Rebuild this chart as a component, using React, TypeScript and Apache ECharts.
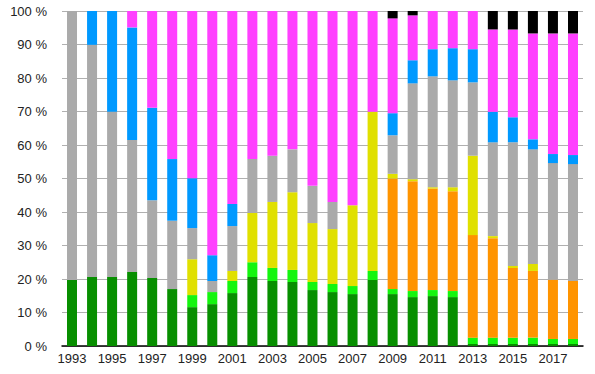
import React, { useEffect, useRef } from "react";
import * as echarts from "echarts";

const years = ["1993","1994","1995","1996","1997","1998","1999","2000","2001","2002","2003","2004","2005","2006","2007","2008","2009","2010","2011","2012","2013","2014","2015","2016","2017","2018"];

const darkGreen = [19.7, 20.6, 20.6, 22.1, 20.3, 17.0, 11.6, 12.5, 15.8, 20.6, 19.4, 19.1, 16.7, 16.1, 15.5, 19.7, 15.5, 14.6, 14.9, 14.6, 0.6, 0.6, 0.6, 0.6, 0.6, 0.6];
const brightGreen = [0, 0, 0, 0, 0, 0, 3.6, 3.6, 3.6, 4.4, 3.9, 3.6, 2.4, 2.4, 2.4, 2.7, 1.5, 1.8, 1.8, 1.8, 1.9, 1.9, 1.9, 1.9, 1.5, 1.5];
const orange = [0, 0, 0, 0, 0, 0, 0, 0, 0, 0, 0, 0, 0, 0, 0, 0, 33.0, 32.8, 30.3, 29.8, 30.6, 29.7, 20.8, 19.9, 17.7, 17.3];
const yellow = [0, 0, 0, 0, 0, 0, 10.7, 0, 3.0, 14.7, 19.7, 23.2, 17.6, 16.4, 24.1, 47.5, 1.4, 0.6, 0.4, 1.2, 23.7, 0.6, 0.6, 2.1, 0, 0];
const gray = [80.3, 69.3, 49.3, 39.4, 23.2, 20.4, 9.3, 3.3, 13.4, 16.1, 13.8, 12.8, 11.1, 8.1, 0, 0, 11.5, 28.6, 33.1, 31.9, 21.9, 28.0, 36.9, 34.2, 34.8, 34.9];
const blue = [0, 10.1, 30.1, 33.6, 27.6, 18.4, 14.9, 7.7, 6.6, 0, 0, 0, 0, 0, 0, 0, 6.6, 6.9, 8.1, 9.6, 9.9, 9.1, 7.5, 3.0, 2.7, 2.7];
const magenta = [0, 0, 0, 4.9, 28.9, 44.2, 49.9, 72.9, 57.6, 44.2, 43.2, 41.3, 52.2, 57.0, 58.0, 30.1, 28.3, 13.4, 11.4, 11.1, 11.4, 24.6, 26.2, 31.6, 36.0, 36.3];
const black = [0, 0, 0, 0, 0, 0, 0, 0, 0, 0, 0, 0, 0, 0, 0, 0, 2.2, 1.3, 0, 0, 0, 5.5, 5.5, 6.7, 6.7, 6.7];

const seriesDefs: [string, number[], string][] = [
  ["darkGreen", darkGreen, "#078f00"],
  ["brightGreen", brightGreen, "#14f50f"],
  ["orange", orange, "#ff9400"],
  ["yellow", yellow, "#e0e000"],
  ["gray", gray, "#aaaaaa"],
  ["blue", blue, "#0099ff"],
  ["magenta", magenta, "#ff40ff"],
  ["black", black, "#000000"],
];

export default function App() {
  const ref = useRef<HTMLDivElement>(null);
  useEffect(() => {
    if (!ref.current) return;
    const chart = echarts.init(ref.current, undefined, { renderer: "svg" });
    chart.setOption({
      animation: false,
      textStyle: { fontFamily: "Liberation Sans, Arial, sans-serif" },
      grid: { left: 62, right: 12, top: 11, bottom: 28 },
      xAxis: {
        type: "category",
        data: years,
        axisLine: { lineStyle: { color: "#000", width: 1.5 } },
        axisTick: { show: false },
        axisLabel: { interval: 1, color: "#222", fontSize: 13, margin: 6 },
      },
      yAxis: {
        type: "value",
        min: 0,
        max: 100,
        interval: 10,
        axisLine: { show: false },
        axisTick: { show: false },
        splitLine: { lineStyle: { color: "#b0b0b0", width: 1 } },
        axisLabel: { formatter: "{value} %", color: "#222", fontSize: 13, margin: 15 },
      },
      series: seriesDefs.map(([name, data, color]) => ({
        name,
        type: "bar",
        stack: "total",
        data,
        barWidth: 10,
        itemStyle: { color },
      })),
    });
    return () => chart.dispose();
  }, []);
  return <div ref={ref} style={{ width: 595, height: 374, position: "absolute", left: 0, top: 0 }} />;
}
